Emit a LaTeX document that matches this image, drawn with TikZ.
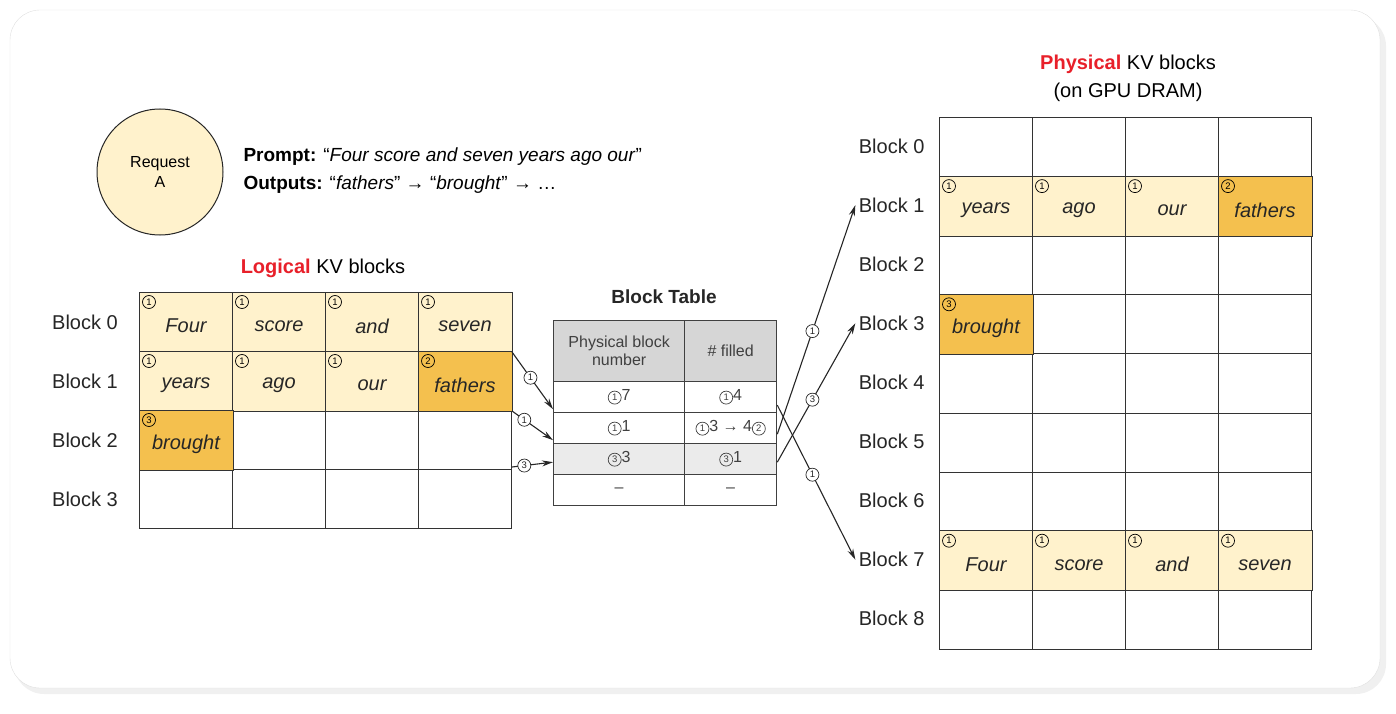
\documentclass[tikz,border=0pt]{standalone}
\usepackage{fontspec}
\setmainfont{Liberation Sans}
\usetikzlibrary{arrows.meta}
\definecolor{lite}{HTML}{FFF2CC}
\definecolor{gold}{HTML}{F4C04E}
\definecolor{hdr}{HTML}{D6D6D6}
\definecolor{redt}{HTML}{E8202A}
\begin{document}
\begin{tikzpicture}[x=1pt,y=-1pt,
  cell/.style={draw=black!80,line width=1pt,minimum width=93pt,minimum height=59pt,inner sep=0pt,anchor=north west,font=\fontsize{20}{22}\selectfont\itshape},
  cn/.style={circle,draw,line width=0.7pt,inner sep=0.3pt,minimum size=13pt,font=\fontsize{9.5}{9.5}\selectfont},
  lbl/.style={font=\fontsize{20}{22}\selectfont,text=black!85},
  tcell/.style={draw=black!75,line width=1.3pt,inner sep=0pt,anchor=north west,font=\fontsize{16}{18}\selectfont,text=black!75},
  arr/.style={-{Stealth[length=11pt,width=6pt]},line width=1.1pt,black!85}]
\useasboundingbox (0,0) rectangle (1396,714);
\fill[black!6,rounded corners=30pt] (14,16) rectangle (1386,694);
\draw[black!12,fill=white,rounded corners=30pt] (10,10) rectangle (1380,688);
% request
\node[circle,draw=black!85,line width=1pt,fill=lite,minimum size=126pt,align=center,font=\fontsize{16}{20}\selectfont] (req) at (160,172) {Request\\A};
\node[anchor=west,font=\fontsize{19}{21}\selectfont] (prompt) at (240,157) {\textbf{Prompt:} “\textit{Four score and seven years ago our}”};
\node[anchor=west,font=\fontsize{19}{21}\selectfont] (outs) at (240,185) {\textbf{Outputs:} “\textit{fathers}” → “\textit{brought}” → …};
% logical
\node[font=\fontsize{20}{22}\selectfont] (ltitle) at (323,268) {\textcolor{redt}{\textbf{Logical}} KV blocks};
\foreach \r in {0,...,3}{
  \node[lbl] (lb\r) at (85,{322+59*\r}) {Block \r};
  \foreach \c in {0,...,3}{
    \node[cell] (L-\r-\c) at ({139+93*\c},{292+59*\r}) {};
  }
}
\newcommand\wcell[4]{% node, fill, number, word
  \fill[#2] (#1.north west) rectangle (#1.south east);
  \draw[black!80,line width=1pt] (#1.north west) rectangle (#1.south east);
  \node[font=\fontsize{20}{22}\selectfont\itshape,text=black!85] at ([yshift=-4pt]#1.center) {#4};
  \node[cn] at ([xshift=10pt,yshift=-10pt]#1.north west) {#3};
}
\newcommand\cnum[1]{\tikz[baseline,x=1pt,y=1pt]\node[cn,anchor=base]{#1};}
\wcell{L-0-0}{lite}{1}{Four}
\wcell{L-0-1}{lite}{1}{score}
\wcell{L-0-2}{lite}{1}{and}
\wcell{L-0-3}{lite}{1}{seven}
\wcell{L-1-0}{lite}{1}{years}
\wcell{L-1-1}{lite}{1}{ago}
\wcell{L-1-2}{lite}{1}{our}
\wcell{L-1-3}{gold}{2}{fathers}
\wcell{L-2-0}{gold}{3}{brought}
% block table
\node[font=\fontsize{19}{21}\selectfont\bfseries,text=black!85] (bt) at (664,297) {Block Table};
\node[tcell,fill=hdr,minimum width=131pt,minimum height=61pt,align=center] (h1) at (553,320) {Physical block\\number};
\node[tcell,fill=hdr,minimum width=92pt,minimum height=61pt] (h2) at (684,320) {\# filled};
\node[tcell,minimum width=131pt,minimum height=31pt] (a1) at (553,381) {\cnum{1}7};
\node[tcell,minimum width=92pt,minimum height=31pt] (b1) at (684,381) {\cnum{1}4};
\node[tcell,minimum width=131pt,minimum height=31pt] (a2) at (553,412) {\cnum{1}1};
\node[tcell,minimum width=92pt,minimum height=31pt] (b2) at (684,412) {\cnum{1}3 → 4\cnum{2}};
\node[tcell,fill=black!8,minimum width=131pt,minimum height=31pt] (a3) at (553,443) {\cnum{3}3};
\node[tcell,fill=black!8,minimum width=92pt,minimum height=31pt] (b3) at (684,443) {\cnum{3}1};
\node[tcell,minimum width=131pt,minimum height=31pt] (a4) at (553,474) {–};
\node[tcell,minimum width=92pt,minimum height=31pt] (b4) at (684,474) {–};
% physical
\node[font=\fontsize{20}{28}\selectfont,align=center] (ptitle) at (1128,78) {\textcolor{redt}{\textbf{Physical}} KV blocks\\(on GPU DRAM)};
\foreach \r in {0,...,8}{
  \node[lbl,anchor=east] (pb\r) at (928,{146+59.1*\r}) {Block \r};
  \foreach \c in {0,...,3}{
    \node[cell,minimum height=59.1pt] (P-\r-\c) at ({939+93*\c},{117+59.1*\r}) {};
  }
}
\wcell{P-1-0}{lite}{1}{years}
\wcell{P-1-1}{lite}{1}{ago}
\wcell{P-1-2}{lite}{1}{our}
\wcell{P-1-3}{gold}{2}{fathers}
\wcell{P-3-0}{gold}{3}{brought}
\wcell{P-7-0}{lite}{1}{Four}
\wcell{P-7-1}{lite}{1}{score}
\wcell{P-7-2}{lite}{1}{and}
\wcell{P-7-3}{lite}{1}{seven}
% arrows left
\draw[arr] ([yshift=-30pt]L-0-3.east) -- node[cn,fill=white,pos=0.45]{1} ([yshift=-12pt]a1.west);
\draw[arr] ([yshift=-30pt]L-1-3.east) -- node[cn,fill=white,pos=0.3]{1} ([yshift=-12pt]a2.west);
\draw[arr] ([yshift=-27pt]L-2-3.east) -- node[cn,fill=white,pos=0.3]{3} ([yshift=-3pt]a3.west);
% arrows right
\draw[arr] ([yshift=-8pt]b1.east) -- node[cn,fill=white,pos=0.45]{1} (pb7.west);
\draw[arr] ([yshift=-6pt]b2.east) -- node[cn,fill=white,pos=0.45]{1} (pb1.west);
\draw[arr] ([yshift=-3pt]b3.east) -- node[cn,fill=white,pos=0.45]{3} (pb3.west);
\end{tikzpicture}
\end{document}
